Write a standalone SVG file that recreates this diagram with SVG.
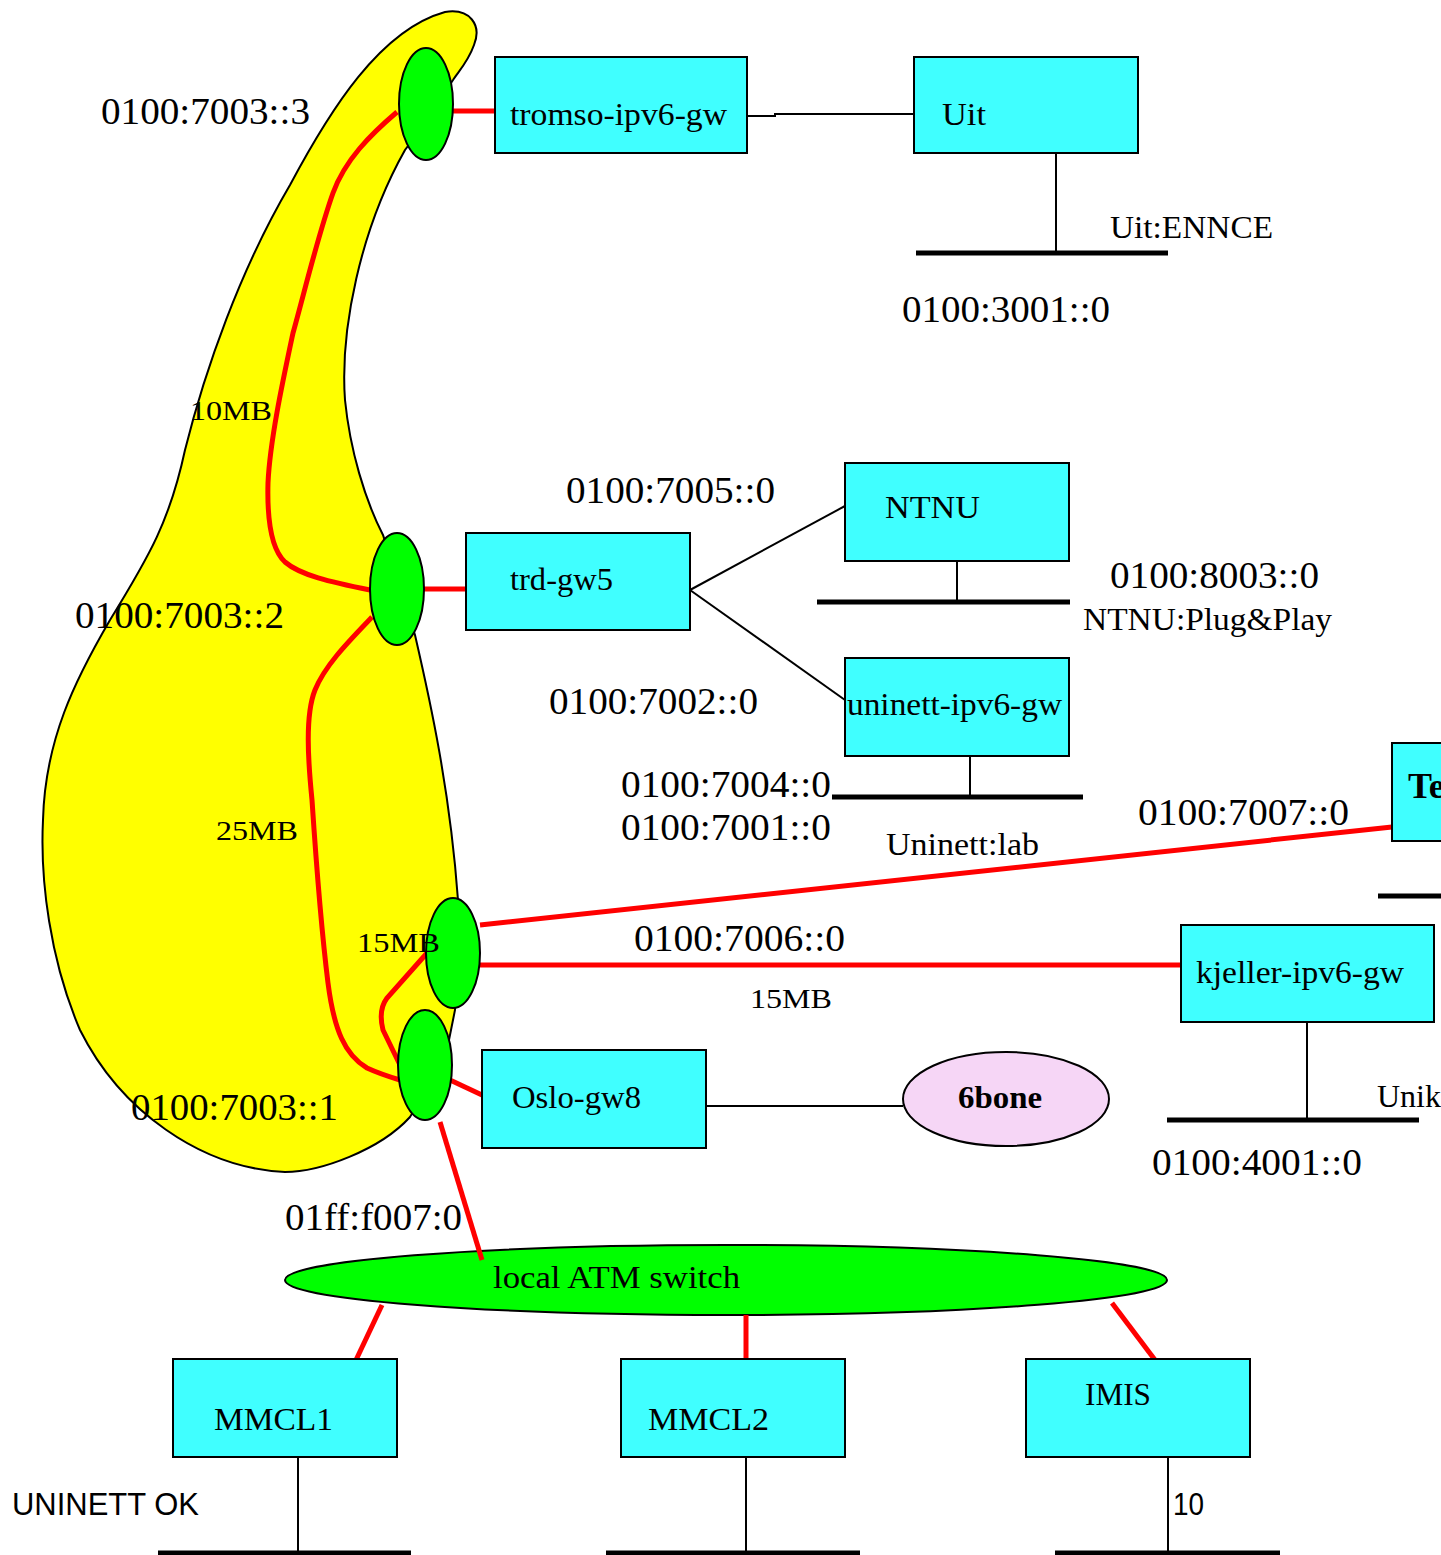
<svg xmlns="http://www.w3.org/2000/svg" width="1441" height="1555" viewBox="0 0 1441 1555">
<style>
.box{fill:#40FFFF;stroke:#000;stroke-width:2}
.node{fill:#00FF00;stroke:#000;stroke-width:2}
.red{stroke:#FF0000;stroke-width:5;fill:none;stroke-linecap:butt}
.thin{stroke:#000;stroke-width:2;fill:none}
.bus{stroke:#000;stroke-width:5;fill:none}
.t{font-family:"Liberation Serif","Times New Roman",serif;fill:#000}
.a{font-size:38px}
.s{font-size:32px}
.b{font-weight:bold}
.sans{font-family:"Liberation Sans",Arial,sans-serif;font-size:31px;fill:#000}
</style>
<rect width="1441" height="1555" fill="#fff"/>
<g id="blob">
<path d="M445,12 C470,8 482,25 474,45 C468,62 458,72 453,80 L420,130 L405,150 C360,230 340,330 345,400 C350,450 365,500 383,535 L415,635 C430,700 450,790 458,900 L455,1010 L445,1060 L410,1117 C380,1150 320,1172 285,1172 C200,1168 120,1110 80,1030 C50,960 40,880 43,820 C45,740 75,680 110,620 C150,555 170,520 185,450 C205,370 240,270 290,185 C330,110 380,30 445,12 Z" fill="#FFFF00" stroke="#000" stroke-width="2"/>
</g>
<g id="connectors">
<path class="red" d="M397,112 C370,135 345,160 333,193 C318,235 305,290 293,333 C283,380 270,440 268,483 C267,520 272,550 285,562 C300,575 330,582 370,590"/>
<path class="red" d="M372,617 C350,640 325,665 315,690 C305,715 308,760 312,800 C316,860 322,935 328,983 C334,1030 345,1055 367,1068 C380,1074 390,1077 400,1080"/>
<path class="red" d="M427,953 L387,998 Q378,1010 383,1030 L400,1065"/>
<line class="red" x1="453" y1="111" x2="495" y2="111"/>
<line class="red" x1="424" y1="589" x2="466" y2="589"/>
<line class="red" x1="480" y1="925" x2="1392" y2="827"/>
<line class="red" x1="480" y1="965" x2="1181" y2="965" stroke-width="4"/>
<line class="red" x1="450" y1="1080" x2="482" y2="1095"/>
<polyline class="thin" points="747,116 775,116 775,114 914,114"/>
<line class="thin" x1="1056" y1="153" x2="1056" y2="253"/>
<line class="bus" x1="916" y1="253" x2="1168" y2="253"/>
<line class="thin" x1="690" y1="590" x2="845" y2="506" stroke-width="1.5"/>
<line class="thin" x1="690" y1="590" x2="845" y2="700" stroke-width="1.5"/>
<line class="thin" x1="957" y1="561" x2="957" y2="602"/>
<line class="bus" x1="817" y1="602" x2="1070" y2="602"/>
<line class="thin" x1="970" y1="756" x2="970" y2="797"/>
<line class="bus" x1="832" y1="797" x2="1083" y2="797"/>
<line class="bus" x1="1378" y1="896" x2="1441" y2="896"/>
<line class="thin" x1="1307" y1="1022" x2="1307" y2="1120"/>
<line class="bus" x1="1167" y1="1120" x2="1419" y2="1120"/>
<line class="thin" x1="706" y1="1106" x2="903" y2="1106"/>
<line class="thin" x1="298" y1="1457" x2="298" y2="1553"/>
<line class="thin" x1="746" y1="1457" x2="746" y2="1553"/>
<line class="thin" x1="1168" y1="1457" x2="1168" y2="1553"/>
<line class="bus" x1="158" y1="1553" x2="411" y2="1553"/>
<line class="bus" x1="606" y1="1553" x2="860" y2="1553"/>
<line class="bus" x1="1055" y1="1553" x2="1280" y2="1553"/>
</g>
<g id="e1"><ellipse class="node" cx="426" cy="104" rx="27" ry="56"/></g>
<g id="e2"><ellipse class="node" cx="397" cy="589" rx="27" ry="56"/></g>
<g id="e3"><ellipse class="node" cx="453" cy="953" rx="27" ry="55"/></g>
<g id="e4"><ellipse class="node" cx="425" cy="1065" rx="27" ry="55"/></g>
<g id="atm">
<ellipse class="node" cx="726" cy="1280" rx="441" ry="35"/>
<text class="t s" x="493" y="1288" textLength="247" lengthAdjust="spacingAndGlyphs">local ATM switch</text>
</g>
<g id="connectors2">
<line class="red" x1="440" y1="1122" x2="482" y2="1260"/>
<line class="red" x1="382" y1="1305" x2="356" y2="1360"/>
<line class="red" x1="746" y1="1315" x2="746" y2="1360"/>
<line class="red" x1="1112" y1="1303" x2="1155" y2="1360"/>
</g>
<g id="tromso"><rect class="box" x="495" y="57" width="252" height="96"/><text class="t s" x="510" y="125" textLength="217" lengthAdjust="spacingAndGlyphs">tromso-ipv6-gw</text></g>
<g id="uit"><rect class="box" x="914" y="57" width="224" height="96"/><text class="t s" x="942" y="125" textLength="44" lengthAdjust="spacingAndGlyphs">Uit</text></g>
<g id="trd"><rect class="box" x="466" y="533" width="224" height="97"/><text class="t s" x="510" y="590" textLength="103" lengthAdjust="spacingAndGlyphs">trd-gw5</text></g>
<g id="ntnu"><rect class="box" x="845" y="463" width="224" height="98"/><text class="t s" x="885" y="518" textLength="95" lengthAdjust="spacingAndGlyphs">NTNU</text></g>
<g id="uninett"><rect class="box" x="845" y="658" width="224" height="98"/><text class="t s" x="847" y="715" textLength="215" lengthAdjust="spacingAndGlyphs">uninett-ipv6-gw</text></g>
<g id="te"><rect class="box" x="1392" y="743" width="60" height="98"/><text class="t b" font-size="36" x="1408" y="798">Te</text></g>
<g id="kjeller"><rect class="box" x="1181" y="925" width="253" height="97"/><text class="t s" x="1196" y="983" textLength="208" lengthAdjust="spacingAndGlyphs">kjeller-ipv6-gw</text></g>
<g id="oslo"><rect class="box" x="482" y="1050" width="224" height="98"/><text class="t s" x="512" y="1108" textLength="129" lengthAdjust="spacingAndGlyphs">Oslo-gw8</text></g>
<g id="sixbone"><ellipse cx="1006" cy="1099" rx="103" ry="47" fill="#F6D6F6" stroke="#000" stroke-width="2"/><text class="t s b" x="958" y="1108" textLength="84" lengthAdjust="spacingAndGlyphs">6bone</text></g>
<g id="mmcl1"><rect class="box" x="173" y="1359" width="224" height="98"/><text class="t s" x="214" y="1430" textLength="119" lengthAdjust="spacingAndGlyphs">MMCL1</text></g>
<g id="mmcl2"><rect class="box" x="621" y="1359" width="224" height="98"/><text class="t s" x="648" y="1430" textLength="121" lengthAdjust="spacingAndGlyphs">MMCL2</text></g>
<g id="imis"><rect class="box" x="1026" y="1359" width="224" height="98"/><text class="t s" x="1085" y="1405" textLength="66" lengthAdjust="spacingAndGlyphs">IMIS</text></g>
<g id="labels">
<text class="t a" x="101" y="124" textLength="209" lengthAdjust="spacingAndGlyphs">0100:7003::3</text>
<text class="t s" x="1110" y="238" textLength="163" lengthAdjust="spacingAndGlyphs">Uit:ENNCE</text>
<text class="t a" x="902" y="322" textLength="208" lengthAdjust="spacingAndGlyphs">0100:3001::0</text>
<text class="t" font-size="28" x="190" y="420" textLength="82" lengthAdjust="spacingAndGlyphs">10MB</text>
<text class="t a" x="566" y="503" textLength="209" lengthAdjust="spacingAndGlyphs">0100:7005::0</text>
<text class="t a" x="1110" y="588" textLength="209" lengthAdjust="spacingAndGlyphs">0100:8003::0</text>
<text class="t s" x="1083" y="630" textLength="249" lengthAdjust="spacingAndGlyphs">NTNU:Plug&amp;Play</text>
<text class="t a" x="75" y="628" textLength="209" lengthAdjust="spacingAndGlyphs">0100:7003::2</text>
<text class="t a" x="549" y="714" textLength="209" lengthAdjust="spacingAndGlyphs">0100:7002::0</text>
<text class="t a" x="621" y="797" textLength="210" lengthAdjust="spacingAndGlyphs">0100:7004::0</text>
<text class="t a" x="621" y="840" textLength="210" lengthAdjust="spacingAndGlyphs">0100:7001::0</text>
<text class="t s" x="886" y="855" textLength="153" lengthAdjust="spacingAndGlyphs">Uninett:lab</text>
<text class="t a" x="1138" y="825" textLength="211" lengthAdjust="spacingAndGlyphs">0100:7007::0</text>
<text class="t" font-size="28" x="216" y="840" textLength="82" lengthAdjust="spacingAndGlyphs">25MB</text>
<text class="t" font-size="28" x="357" y="952" textLength="83" lengthAdjust="spacingAndGlyphs">15MB</text>
<text class="t a" x="634" y="951" textLength="211" lengthAdjust="spacingAndGlyphs">0100:7006::0</text>
<text class="t" font-size="28" x="750" y="1008" textLength="82" lengthAdjust="spacingAndGlyphs">15MB</text>
<text class="t s" x="1377" y="1107">Unik</text>
<text class="t a" x="131" y="1120" textLength="207" lengthAdjust="spacingAndGlyphs">0100:7003::1</text>
<text class="t a" x="1152" y="1175" textLength="210" lengthAdjust="spacingAndGlyphs">0100:4001::0</text>
<text class="t a" x="285" y="1230" textLength="177" lengthAdjust="spacingAndGlyphs">01ff:f007:0</text>
<text class="sans" x="12" y="1515" textLength="187" lengthAdjust="spacingAndGlyphs">UNINETT OK</text>
<text class="sans" x="1173" y="1515" textLength="31" lengthAdjust="spacingAndGlyphs">10</text>
</g>
</svg>
